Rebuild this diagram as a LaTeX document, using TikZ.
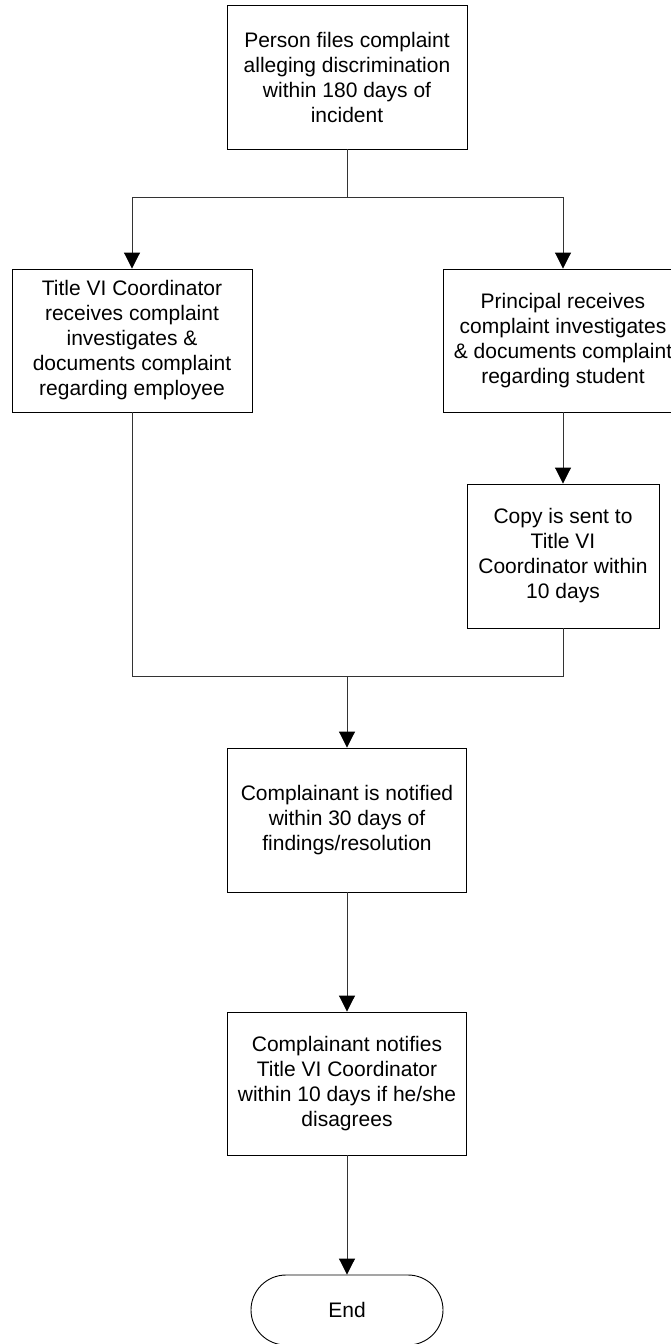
\documentclass[tikz,border=0pt]{standalone}
\usepackage{fontspec}
\setmainfont{Liberation Sans}
\usetikzlibrary{arrows.meta}
\tikzset{
  procbox/.style={draw=black, line width=0.9pt, fill=white, inner sep=0pt, align=center,
    font=\fontsize{21}{25}\selectfont},
  termbox/.style={procbox, rounded corners=35pt},
  conn/.style={draw=black!80, line width=0.9pt},
  arr/.style={conn, -{Triangle[length=16pt,width=16pt,color=black]}},
}
\begin{document}
\begin{tikzpicture}[x=1pt,y=-1pt]
\useasboundingbox[fill=white] (0,0) rectangle (670,1344);
\node[procbox, minimum width=240pt, minimum height=144pt] (b1) at (347,77)
  {Person files complaint\\alleging discrimination\\within 180 days of\\incident};
\node[procbox, minimum width=240pt, minimum height=143pt] (b2) at (132,340.5)
  {Title VI Coordinator\\receives complaint\\investigates \&\\documents complaint\\regarding employee};
\node[procbox, minimum width=240pt, minimum height=143pt] (b3) at (563,340.5)
  {Principal receives\\complaint investigates\\\& documents complaint\\regarding student};
\node[procbox, minimum width=192pt, minimum height=144pt] (b4) at (563,556)
  {Copy is sent to\\Title VI\\Coordinator within\\10 days};
\node[procbox, minimum width=239pt, minimum height=144pt] (b5) at (347,820)
  {Complainant is notified\\within 30 days of\\findings/resolution};
\node[procbox, minimum width=239pt, minimum height=143pt] (b6) at (347,1083.5)
  {Complainant notifies\\Title VI Coordinator\\within 10 days if he/she\\disagrees};
\node[termbox, minimum width=192pt, minimum height=70pt] (e) at (347,1310) {End};
\coordinate (s1) at (347,197);
\coordinate (m) at (347,676);
\draw[conn] (b1.south) -- (s1);
\draw[arr] (s1) -| (b2.north);
\draw[arr] (s1) -| (b3.north);
\draw[arr] (b3.south) -- (b4.north);
\draw[conn] (b2.south) |- (m);
\draw[conn] (b4.south) |- (m);
\draw[arr] (m) -- (b5.north);
\draw[arr] (b5.south) -- (b6.north);
\draw[arr] (b6.south) -- (e.north);
\end{tikzpicture}
\end{document}
